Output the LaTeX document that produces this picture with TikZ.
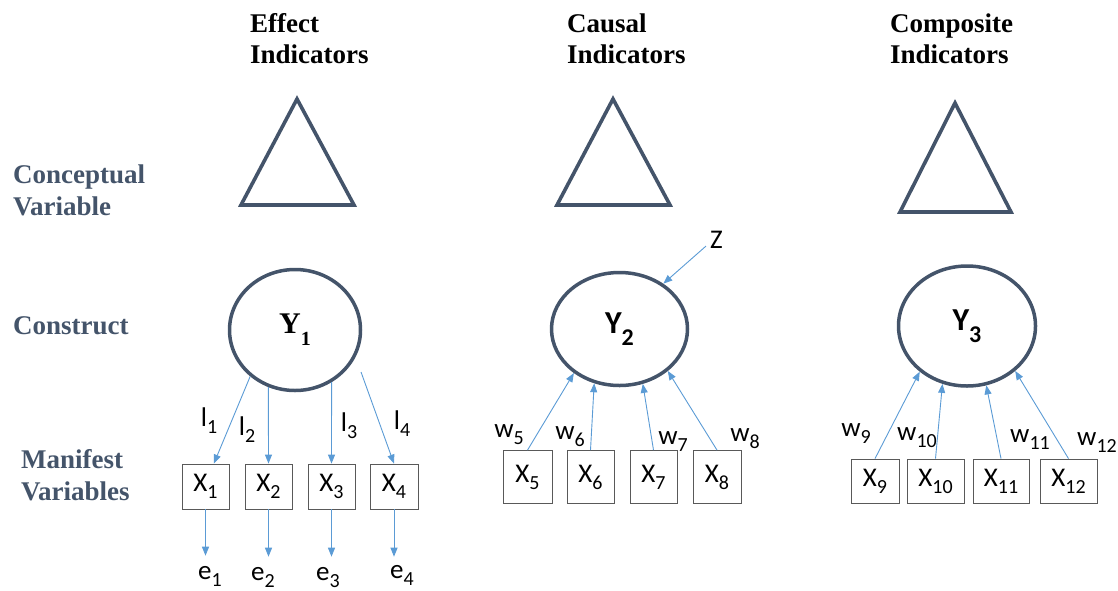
\documentclass[tikz,border=0pt]{standalone}
\usepackage{fontspec}
\setmainfont{Liberation Serif}
\newfontfamily\calib{Carlito}
\usetikzlibrary{shapes.geometric,arrows.meta}
\definecolor{slate}{HTML}{44546A}
\definecolor{arrblue}{HTML}{5B9BD5}
\definecolor{boxgray}{HTML}{595959}
\newcommand\lsub[1]{\raisebox{-7pt}{\fontsize{20}{20}\selectfont #1}}
\newcommand\ysub[2]{\raisebox{-12pt}{\fontsize{#1}{#1}\selectfont #2}}
\begin{document}
\begin{tikzpicture}[x=1pt,y=-1pt,
  title/.style={font=\fontsize{27}{31}\selectfont\bfseries, align=left, inner sep=0, anchor=base west},
  rowlab/.style={title, text=slate, font=\fontsize{27}{32}\selectfont\bfseries},
  tri/.style={draw=slate, line width=3.6pt, line join=miter},
  construct/.style={ellipse, draw=slate, line width=3.5pt, inner sep=0},
  mv/.style={draw=boxgray, line width=0.8pt, inner sep=0, font=\calib\fontsize{27}{27}\selectfont},
  lbl/.style={inner sep=0, font=\calib\fontsize{27}{27}\selectfont},
  arr/.style={color=arrblue, line width=0.9pt, -{Triangle[length=9pt,width=7pt]}}
]
\useasboundingbox (0,0) rectangle (1118,590);

% column titles (base = baseline of the last line)
\node[title] (t1) at (250,63) {Effect\\Indicators};
\node[title] (t2) at (567,63) {Causal\\Indicators};
\node[title] (t3) at (890,63) {Composite\\Indicators};

% row labels
\node[rowlab] (r1) at (13,215) {Conceptual\\Variable};
\node[rowlab] (r2) at (13,334) {Construct};
\node[rowlab] (r3) at (21,500) {Manifest\\Variables};

% conceptual variables
\draw[tri] (297,99) -- (241,205) -- (354,205) -- cycle;
\draw[tri] (613,99) -- (557,205) -- (670,205) -- cycle;
\draw[tri] (955,103) -- (900,212) -- (1011,212) -- cycle;

% constructs
\node[construct, minimum width=131, minimum height=121] (Y1) at (295,330)
  {\fontsize{30}{30}\selectfont\bfseries Y\ysub{20}{1}};
\node[construct, minimum width=136, minimum height=113] (Y2) at (619.5,329)
  {\calib\fontsize{32}{32}\selectfont\bfseries Y\ysub{24}{2}};
\node[construct, minimum width=137, minimum height=120] (Y3) at (967,326)
  {\calib\fontsize{32}{32}\selectfont\bfseries Y\ysub{24}{3}};

% effect indicators
\node[mv, minimum width=47, minimum height=45] (X1) at (205.5,486.5) {X\lsub{1}};
\node[mv, minimum width=47, minimum height=45] (X2) at (268.5,486.5) {X\lsub{2}};
\node[mv, minimum width=47, minimum height=45] (X3) at (331.5,486.5) {X\lsub{3}};
\node[mv, minimum width=48, minimum height=45] (X4) at (394,486.5) {X\lsub{4}};

\node[lbl] (l1) at (209,421) {l\lsub{1}};
\node[lbl] (l2) at (247,430) {l\lsub{2}};
\node[lbl] (l3) at (349,426) {l\lsub{3}};
\node[lbl] (l4) at (402,424) {l\lsub{4}};

\node[lbl, anchor=base] (e1) at (210,579) {e\lsub{1}};
\node[lbl, anchor=base] (e2) at (263,580) {e\lsub{2}};
\node[lbl, anchor=base] (e3) at (328,580) {e\lsub{3}};
\node[lbl, anchor=base] (e4) at (402,578) {e\lsub{4}};

\draw[arr] (Y1.226) -- (X1.70);
\draw[arr] (Y1.245) -- (X2.north);
\draw[arr] (Y1.305) -- (X3.north);
\draw[arr, shorten <=16pt] (Y1.336) -- (X4.north);

\draw[arr, shorten >=10pt] (X1.south) -- (X1.south |- e1.north);
\draw[arr, shorten >=10pt] (X2.south) -- (X2.south |- e2.north);
\draw[arr, shorten >=10pt] (X3.south) -- (X3.south |- e3.north);
\draw[arr, shorten >=8pt] (X4.south) -- (X4.south |- e4.north);

% causal indicators
\node[mv, minimum width=49, minimum height=53] (X5) at (527.5,477) {X\lsub{5}};
\node[mv, minimum width=47, minimum height=53] (X6) at (590.5,477) {X\lsub{6}};
\node[mv, minimum width=47, minimum height=53] (X7) at (653.5,477) {X\lsub{7}};
\node[mv, minimum width=48, minimum height=53] (X8) at (717,477) {X\lsub{8}};

\node[lbl] (w5) at (509,435) {w\lsub{5}};
\node[lbl] (w6) at (570,437) {w\lsub{6}};
\node[lbl] (w7) at (673,442) {w\lsub{7}};
\node[lbl] (w8) at (745,439) {w\lsub{8}};

\draw[arr] (X5.north) -- (Y2.224);
\draw[arr] (X6.north) -- (Y2.245);
\draw[arr] (X7.north) -- (Y2.293);
\draw[arr] (X8.north) -- (Y2.319);

\node[lbl, inner sep=4pt] (Z) at (716.5,240) {Z};
\draw[arr] (Z.210) -- (Y2.46);

% composite indicators
\node[mv, minimum width=48, minimum height=44] (X9) at (875,481) {X\lsub{9}};
\node[mv, minimum width=57, minimum height=44] (X10) at (935.5,481) {X\lsub{10}};
\node[mv, minimum width=56, minimum height=44] (X11) at (1001,481) {X\lsub{11}};
\node[mv, minimum width=57, minimum height=44] (X12) at (1068.5,481) {X\lsub{12}};

\node[lbl] (w9) at (856,434) {w\lsub{9}};
\node[lbl] (w10) at (917,438) {w\lsub{10}};
\node[lbl] (w11) at (1030,440) {w\lsub{11}};
\node[lbl] (w12) at (1097,443) {w\lsub{12}};

\draw[arr] (X9.north) -- (Y3.224);
\draw[arr] (X10.north) -- (Y3.247);
\draw[arr] (X11.north) -- (Y3.288);
\draw[arr] (X12.north) -- (Y3.317);
\end{tikzpicture}
\end{document}
